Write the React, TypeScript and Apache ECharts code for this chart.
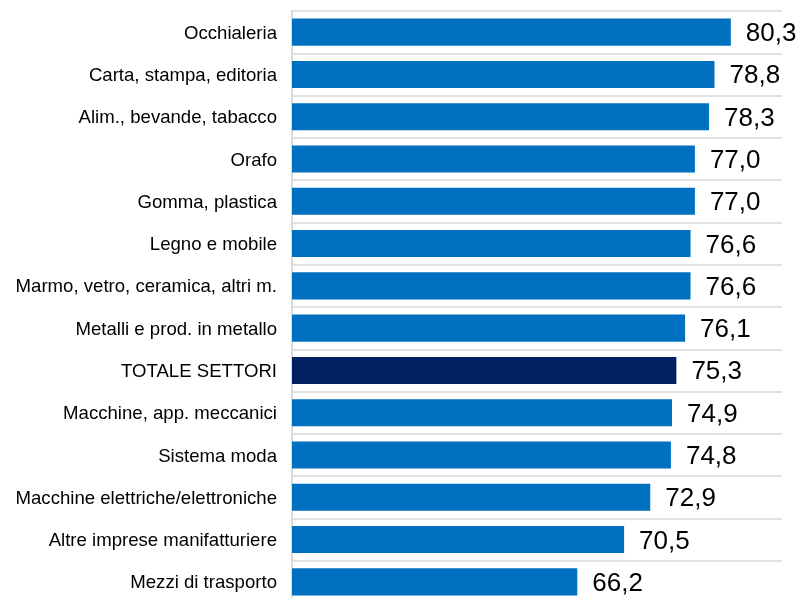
import React, { useEffect, useRef } from "react";
import * as echarts from "echarts";

const categories = [
  "Occhialeria",
  "Carta, stampa, editoria",
  "Alim., bevande, tabacco",
  "Orafo",
  "Gomma, plastica",
  "Legno e mobile",
  "Marmo, vetro, ceramica, altri m.",
  "Metalli e prod. in metallo",
  "TOTALE SETTORI",
  "Macchine, app. meccanici",
  "Sistema moda",
  "Macchine elettriche/elettroniche",
  "Altre imprese manifatturiere",
  "Mezzi di trasporto",
];
const values = [80.3, 78.8, 78.3, 77.0, 77.0, 76.6, 76.6, 76.1, 75.3, 74.9, 74.8, 72.9, 70.5, 66.2];
const highlight = "TOTALE SETTORI";

export default function App() {
  const ref = useRef<HTMLDivElement>(null);
  useEffect(() => {
    document.documentElement.style.overflow = "hidden";
    document.body.style.margin = "0";
    document.body.style.overflow = "hidden";
    if (!ref.current) return;
    const chart = echarts.init(ref.current, null, { renderer: "svg" });
    const font = "'Liberation Sans', Arial, sans-serif";
    chart.setOption({
      animation: false,
      grid: { left: 292, right: 20, top: 11, height: 592, containLabel: false },
      xAxis: {
        type: "value",
        min: 40,
        max: 85,
        show: false,
      },
      yAxis: {
        type: "category",
        data: categories,
        inverse: true,
        axisLine: { show: true, lineStyle: { color: "#d9d9d9", width: 2 } },
        axisTick: { show: false },
        splitLine: { show: true, lineStyle: { color: "#d9d9d9", width: 1.5 } },
        axisLabel: {
          color: "#000",
          fontSize: 18.6,
          fontFamily: font,
          margin: 15,
        },
      },
      series: [
        {
          type: "bar",
          barCategoryGap: "36%",
          data: values.map((v, i) => ({
            value: v,
            itemStyle: { color: categories[i] === highlight ? "#002060" : "#0070C0" },
          })),
          label: {
            show: true,
            position: "right",
            distance: 15,
            color: "#000",
            fontSize: 26,
            fontFamily: font,
            formatter: (p: any) => Number(p.value).toFixed(1).replace(".", ","),
          },
        },
      ],
    });
    return () => chart.dispose();
  }, []);
  return (
    <div
      style={{
        position: "fixed",
        left: 0,
        top: 0,
        width: 802,
        height: 598,
        overflow: "hidden",
      }}
    >
      <div ref={ref} style={{ width: 802, height: 620 }} />
    </div>
  );
}
